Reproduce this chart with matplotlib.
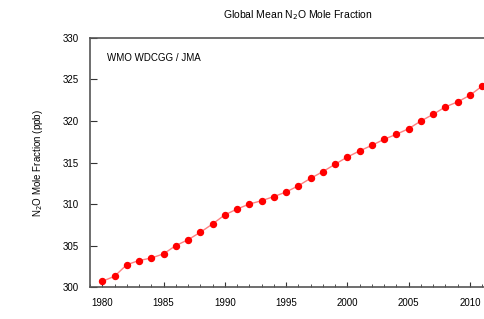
import matplotlib
matplotlib.use('Agg')
import matplotlib.pyplot as plt
from matplotlib.ticker import MultipleLocator

plt.rcParams['font.family'] = ['Liberation Sans', 'DejaVu Sans']

years = list(range(1980, 2012))
n2o = [300.7, 301.3, 302.7, 303.2, 303.5, 304.0, 305.0, 305.7, 306.6, 307.6,
       308.7, 309.4, 310.0, 310.4, 310.9, 311.45, 312.2, 313.1, 313.9, 314.8,
       315.66, 316.4, 317.07, 317.8, 318.4, 319.07, 320.0, 320.8, 321.7, 322.3,
       323.1, 324.2]

y_ticks = [300, 305, 310, 315, 320, 325, 330]
x_ticks = [1980, 1985, 1990, 1995, 2000, 2005, 2010]

fig = plt.figure(figsize=(4.84, 3.19), dpi=100)
# axes runs past the right edge of the figure, as in the source image
ax = fig.add_axes([0.186, 0.100, 0.859, 0.781])

ax.plot(years, n2o, color='#ff8080', lw=1, zorder=2)
ax.plot(years, n2o, 'o', color='red', ms=4.3, mec='red', zorder=3)

ax.set_xlim(1979, 2012.93)
ax.set_ylim(300, 330)
ax.set_xticks(x_ticks)
ax.set_yticks(y_ticks)
ax.xaxis.set_minor_locator(MultipleLocator(1))
ax.tick_params(which='both', direction='in', labelsize=7, color='#333333',
               top=False, right=False)
ax.tick_params(axis='y', which='major', length=5, pad=8)
ax.tick_params(axis='x', which='major', length=3.5, pad=8)
ax.tick_params(axis='x', which='minor', length=2)

for s in ['left', 'bottom', 'top']:
    ax.spines[s].set_color('#555555')
    ax.spines[s].set_linewidth(1.2)
ax.spines['right'].set_visible(False)

ax.set_ylabel('N$_2$O Mole Fraction (ppb)', fontsize=7, labelpad=13)
ax.set_title('Global Mean N$_2$O Mole Fraction', fontsize=7.5, pad=14)
ax.text(0.04, 0.92, 'WMO WDCGG / JMA', transform=ax.transAxes, fontsize=7,
        va='center', ha='left')

fig.savefig('out.png', dpi=100)
